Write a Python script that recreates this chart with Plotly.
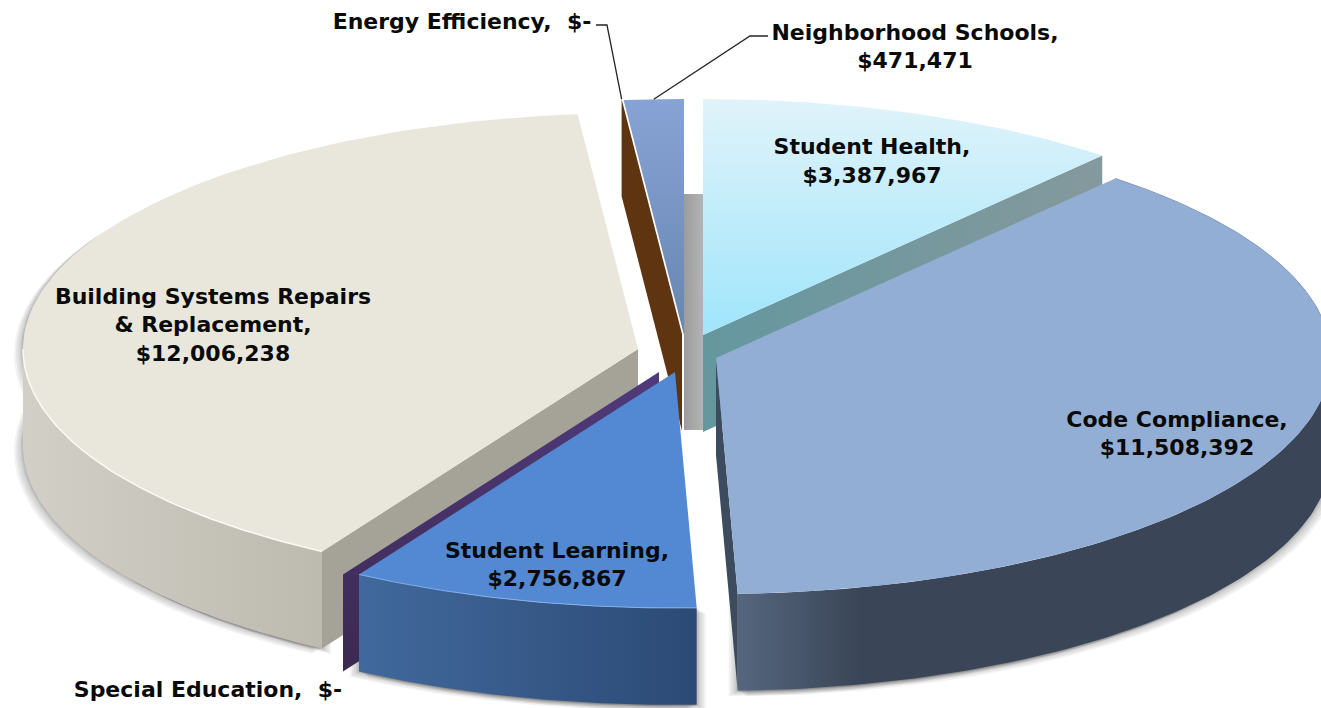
import numpy as np
import plotly.graph_objects as go

# ---- data (clockwise from 12 o'clock)
categories = ["Student Health", "Code Compliance", "Student Learning", "Special Education",
              "Building Systems Repairs & Replacement", "Energy Efficiency", "Neighborhood Schools"]
values = [3387967, 11508392, 2756867, 0, 12006238, 0, 471471]
label_lines = [["Student Health,", "$3,387,967"],
               ["Code Compliance,", "$11,508,392"],
               ["Student Learning,", "$2,756,867"],
               ["Special Education,  $-"],
               ["Building Systems Repairs", "& Replacement,", "$12,006,238"],
               ["Energy Efficiency,  $-"],
               ["Neighborhood Schools,", "$471,471"]]

# ---- pie projection and styling
CX, CY = 690, 350
RX, RY, DEPTH = 615, 236, 97
explode = [(13, -15), (26, 8), (-15, 22), (-31, 22), (-52, -1), (-8, -16), (-6, -15)]
label_pos = [[(872, 148), (872, 177)],
             [(1177, 421), (1177, 449)],
             [(557, 552), (557, 580)],
             [(208, 691)],
             [(213, 298), (213, 326), (213, 355)],
             [(462, 23)],
             [(915, 34), (915, 62)]]

cum = np.concatenate([[0], np.cumsum(values)]) / sum(values) * 360
start = dict(zip(categories, cum[:-1]))
stop = dict(zip(categories, cum[1:]))
centre = {c: (CX + e[0], CY + e[1]) for c, e in zip(categories, explode)}


def rim(cat, a0, a1, n=90, dz=0, grow=0):
    cx, cy = centre[cat]
    t = np.radians(np.linspace(a0, a1, n))
    return cx + (RX + grow) * np.sin(t), cy - (RY + grow) * np.cos(t) + dz


def top_poly(cat):
    cx, cy = centre[cat]
    x, y = rim(cat, start[cat], stop[cat])
    return np.r_[cx, x, cx], np.r_[cy, y, cy]


def wall_poly(cat, a0, a1):
    x1, y1 = rim(cat, a0, a1)
    x2, y2 = rim(cat, a1, a0, dz=DEPTH)
    return np.r_[x1, x2, x1[0]], np.r_[y1, y2, y1[0]]


def face_poly(cat, angle):
    cx, cy = centre[cat]
    x, y = rim(cat, angle, angle, n=1)
    return (np.array([cx, x[0], x[0], cx, cx]),
            np.array([cy, y[0], y[0] + DEPTH, cy + DEPTH, cy]))


fig = go.Figure()


def add(x, y, color=None, grad=None, line=None):
    kw = dict(x=x, y=y, mode="lines", fill="toself", hoverinfo="skip", showlegend=False,
              line=dict(width=0, color="rgba(0,0,0,0)"))
    if color:
        kw["fillcolor"] = color
    if grad:
        kw["fillgradient"] = dict(type=grad[0], colorscale=[[0, grad[1]], [1, grad[2]]],
                                  start=grad[3], stop=grad[4])
    fig.add_trace(go.Scatter(**kw))


def stroke(x, y, color, width):
    fig.add_trace(go.Scatter(x=x, y=y, mode="lines", hoverinfo="skip", showlegend=False,
                             line=dict(color=color, width=width)))


H, C, L, S, B, E, N = categories

# soft shadows behind the slices
for k in (9, 7, 5, 3, 2, 1):
    for cat, a0, a1 in ((B, start[B], 300), (C, 90, stop[C]), (L, start[L], stop[L])):
        x, y = wall_poly(cat, a0, a1)
        for sx in (-k, k):
            add(x + sx, y + k * 0.6, "rgba(30,30,30,0.06)")

# grey shadow band behind the narrow slices
gx = centre[N][0]
hx = centre[H][0]
add(np.array([gx, hx, hx, gx, gx]), np.array([194, 194, 430, 430, 194]),
    grad=("horizontal", "#9c9c9c", "#b4b4b4", gx, hx))

# Energy Efficiency: zero-width slice, only its cut face shows
x, y = face_poly(E, start[E])
add(x, y, "#5f3410")

# Neighborhood Schools
x, y = top_poly(N)
add(x, y, grad=("vertical", "#87a3d5", "#6685b0", 100, 340))

# Building Systems
x, y = wall_poly(B, start[B], 270)
add(x, y, grad=("horizontal", "#d2d0c6", "#bdbab0", 23, 322))
x, y = face_poly(B, start[B])
add(x, y, "#a5a298")
x, y = top_poly(B)
add(x, y, "#e9e7dc")
x, y = rim(B, start[B], 270)
stroke(x, y, "#fbfaf3", 1.5)

# Special Education: zero-width slice, only its cut face shows
x, y = face_poly(S, start[S])
add(x, y, grad=("vertical", "#503a7c", "#3c2950", 372, 672))

# Student Health
x, y = face_poly(H, stop[H])
add(x, y, grad=("horizontal", "#65979f", "#84999d", 703, 1102))
x, y = top_poly(H)
add(x, y, grad=("vertical", "#e0f3fa", "#9fe5fb", 100, 335))

# Code Compliance
x, y = face_poly(C, stop[C])
add(x, y, "#3c4b5e")
x, y = wall_poly(C, 90, stop[C])
add(x, y, grad=("horizontal", "#3a4657", "#55667e", 860, 737))
x, y = top_poly(C)
add(x, y, "#92aed4")
x, y = rim(C, start[C], 90)
stroke(x, y, "#8199ba", 1)

# Student Learning
x, y = wall_poly(L, start[L], stop[L])
add(x, y, grad=("horizontal", "#41699d", "#2c4a75", 357, 697))
x, y = top_poly(L)
add(x, y, "#5388d2")
x, y = rim(L, start[L], stop[L])
stroke(x, y, "#86b1e8", 1)

# leader lines
ex, ey = rim(E, start[E], start[E], n=1)
stroke([596, 607, ex[0]], [25, 25, ey[0]], "#262626", 1.3)
nx, ny = rim(N, (start[N] + stop[N]) / 2, (start[N] + stop[N]) / 2, n=1)
stroke([768, 750, nx[0]], [36, 36, ny[0]], "#262626", 1.3)

# labels
tx, ty, tt = [], [], []
for lines, pos in zip(label_lines, label_pos):
    for s, p in zip(lines, pos):
        tx.append(p[0]); ty.append(p[1]); tt.append(s)
fig.add_trace(go.Scatter(x=tx, y=ty, text=tt, mode="text", textposition="middle center",
                         hoverinfo="skip", showlegend=False, cliponaxis=False,
                         textfont=dict(family="DejaVu Sans", size=22, color="#0a0a0a", weight="bold")))

fig.update_layout(width=1321, height=708, margin=dict(l=0, r=0, t=0, b=0),
                  paper_bgcolor="white", plot_bgcolor="white", showlegend=False,
                  xaxis=dict(range=[0, 1321], visible=False, fixedrange=True),
                  yaxis=dict(range=[708, 0], visible=False, fixedrange=True))
fig.write_html("out.html", config={"displayModeBar": False},
               post_script="document.body.style.margin='0';")
